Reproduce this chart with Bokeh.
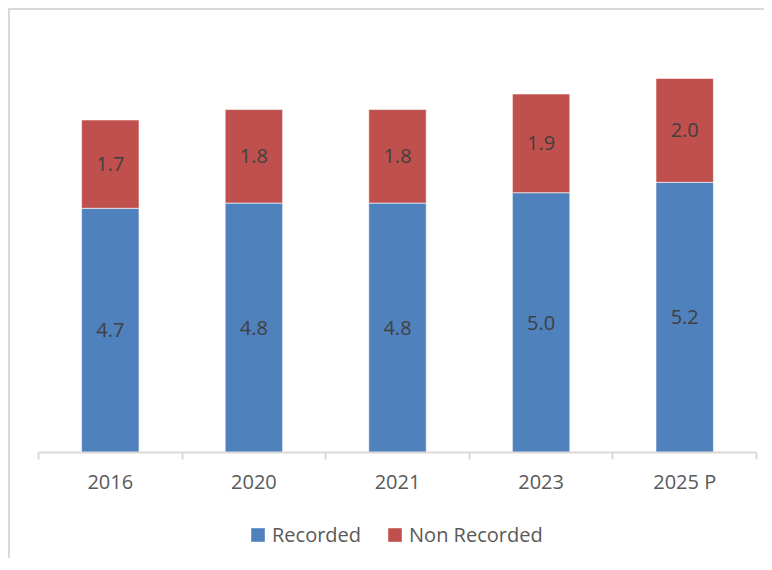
from bokeh.plotting import figure
from bokeh.layouts import column
from bokeh.models import ColumnDataSource, Range1d, FixedTicker, Legend, LegendItem, LabelSet
from bokeh.core.properties import value
from bokeh.embed import file_html
from bokeh.resources import INLINE

categories = ["2016", "2020", "2021", "2023", "2025 P"]
recorded = [4.7, 4.8, 4.8, 5.0, 5.2]
non_recorded = [1.7, 1.8, 1.8, 1.9, 2.0]
series_names = ["Recorded", "Non Recorded"]
colors = ["#4F81BD", "#C0504D"]

FONT = "Open Sans"
TXT = "#595959"
BORDER = "2px solid #d9d9d9"

n = len(categories)
xs = [i + 0.5 for i in range(n)]
rec_mid = [r / 2 for r in recorded]
non_mid = [r + v / 2 for r, v in zip(recorded, non_recorded)]
top_total = [r + v for r, v in zip(recorded, non_recorded)]

src = ColumnDataSource(dict(
    x=xs, rec=recorded, non=non_recorded, tot=top_total,
    rec_mid=rec_mid, non_mid=non_mid,
    rec_lab=["%.1f" % v for v in recorded],
    non_lab=["%.1f" % v for v in non_recorded],
))

# ---- main chart ----
p = figure(width=756, height=500, output_backend="svg", toolbar_location=None,
           x_range=Range1d(0, n), y_range=Range1d(0, 8.16),
           y_axis_location=None, min_border_left=28, min_border_right=10,
           min_border_top=18, min_border_bottom=58, background_fill_color="white")
p.styles = {"border-left": BORDER, "border-top": BORDER}
p.outline_line_color = None
p.xgrid.visible = False
p.ygrid.visible = False

p.vbar(x="x", bottom=0, top="rec", width=0.4, source=src,
       fill_color=colors[0], line_color="white", line_width=0.6)
p.vbar(x="x", bottom="rec", top="tot", width=0.4, source=src,
       fill_color=colors[1], line_color="white", line_width=0.6)

for ycol, tcol in (("rec_mid", "rec_lab"), ("non_mid", "non_lab")):
    p.add_layout(LabelSet(x="x", y=ycol, text=tcol, source=src,
                          text_align="center", text_baseline="middle",
                          text_font=value(FONT), text_font_size="20px",
                          text_color="#404040"))

ax = p.xaxis[0]
ax.ticker = FixedTicker(ticks=xs, minor_ticks=list(range(n + 1)))
ax.major_label_overrides = {x: c for x, c in zip(xs, categories)}
ax.major_tick_out = 0
ax.major_tick_in = 0
ax.minor_tick_out = 7
ax.minor_tick_in = 0
ax.minor_tick_line_color = "#d9d9d9"
ax.minor_tick_line_width = 2
ax.axis_line_color = "#d9d9d9"
ax.axis_line_width = 2
ax.major_label_text_font = FONT
ax.major_label_text_font_size = "20px"
ax.major_label_text_color = TXT
ax.major_label_standoff = 8

# ---- legend strip ----
lg = figure(width=756, height=50, output_backend="svg", toolbar_location=None,
            x_range=Range1d(0, n), y_range=Range1d(100, 101),
            x_axis_location=None, y_axis_location=None,
            min_border=0, background_fill_color="white")
lg.styles = {"border-left": BORDER}
lg.outline_line_color = None
lg.xgrid.visible = False
lg.ygrid.visible = False
g1 = lg.vbar(x="x", bottom=0, top="rec", width=0.4, source=src,
             fill_color=colors[0], line_color=None)
g2 = lg.vbar(x="x", bottom="rec", top="tot", width=0.4, source=src,
             fill_color=colors[1], line_color=None)

legend = Legend(items=[LegendItem(label=series_names[0], renderers=[g1]),
                       LegendItem(label=series_names[1], renderers=[g2])],
                orientation="horizontal", location=(211, 10),
                label_text_font=FONT, label_text_font_size="20px",
                label_text_color=TXT, glyph_width=17, glyph_height=17,
                label_standoff=6, spacing=25, border_line_color=None,
                background_fill_alpha=0, margin=0, padding=5)
lg.add_layout(legend)

layout = column(p, lg, spacing=0)
layout.margin = (8, 0, 0, 8)

open("out.html", "w").write(file_html(layout, INLINE))
